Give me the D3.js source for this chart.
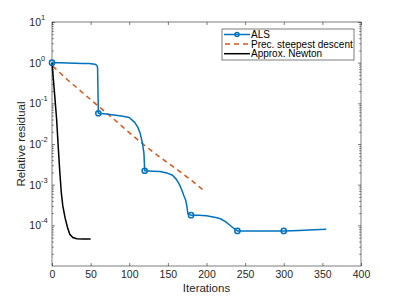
<!DOCTYPE html>
<html>
<head>
<meta charset="utf-8">
<script src="https://cdn.jsdelivr.net/npm/d3@7"></script>
<style>
  body { margin: 0; background: #fff; }
  text { font-family: "Liberation Sans", Arial, sans-serif; }
</style>
</head>
<body>
<svg id="chart" width="399" height="299"></svg>
<script>
// data
var alsIter = [0, 10, 20, 30, 40, 48, 53, 56, 58, 59, 60, 70, 80, 90, 100, 107, 111, 114, 117, 119, 120, 130, 140, 150, 156, 161, 165, 168, 171, 173, 174.5, 176, 180, 190, 200, 205, 212, 218, 224, 230, 235, 240, 260, 280, 300, 320, 340, 355];
var alsVal  = [1.0, 0.99, 0.98, 0.97, 0.96, 0.95, 0.93, 0.91, 0.86, 0.76, 0.057, 0.055, 0.052, 0.049, 0.045, 0.034, 0.026, 0.0187, 0.0106, 0.006, 0.0022, 0.00215, 0.0021, 0.0019, 0.0017, 0.00135, 0.001, 0.00074, 0.00052, 0.00042, 0.0003, 0.00019, 0.000178, 0.000176, 0.000172, 0.000165, 0.000155, 0.000145, 0.000125, 0.000102, 0.000085, 0.000073, 0.000073, 0.000073, 0.000073, 0.000075, 0.000078, 0.00008];
var alsMarkIter = [0, 60, 120, 180, 240, 300];
var alsMarkVal  = [1.0, 0.057, 0.0022, 0.000178, 0.000073, 0.000073];

var sdIter = [1, 20, 40, 60, 80, 100, 120, 140, 160, 180, 198];
var sdVal  = [0.82, 0.38, 0.18, 0.085, 0.041, 0.019, 0.0092, 0.0047, 0.0025, 0.0013, 0.00068];

var nwIter = [0, 2, 4, 6, 8, 10, 12, 14, 17, 20, 23, 27, 32, 40, 50];
var nwVal  = [1.0, 0.35, 0.12, 0.04, 0.009, 0.0022, 0.00065, 0.0003, 0.00015, 0.00009, 0.00006, 0.00005, 0.000047, 0.000046, 0.000046];

var xTicks = [0, 50, 100, 150, 200, 250, 300, 350, 400];
var yExps = [-4, -3, -2, -1, 0, 1];
var legendNames = ['ALS', 'Prec. steepest descent', 'Approx. Newton'];
var colors = ['#0072BD', '#D95319', '#000000'];

var svg = d3.select('#chart');
var L = 52, R = 361, T = 22, B = 266;
var axisCol = '#262626';

var x = d3.scaleLinear().domain([0, 400]).range([L, R]);
var y = d3.scaleLog().domain([1e-5, 10]).range([B, T]);

// minor tick values
var minor = [];
for (var e = -5; e < 1; e++) {
    for (var k = 2; k < 10; k++) minor.push(k * Math.pow(10, e));
}
var major = yExps.map(function(d) { return Math.pow(10, d); });

function styleAxis(g) {
    g.select('.domain').remove();
    g.selectAll('line').attr('stroke', axisCol).attr('stroke-width', 0.6);
    g.selectAll('text').attr('fill', axisCol).style('font-size', '10.5px');
}

// bottom / top
svg.append('g')
    .attr('transform', 'translate(0,' + B + ')')
    .call(d3.axisBottom(x).tickValues(xTicks).tickSize(-3).tickPadding(4.5))
    .call(styleAxis);
svg.append('g')
    .attr('transform', 'translate(0,' + T + ')')
    .call(d3.axisTop(x).tickValues(xTicks).tickSize(-3).tickFormat(''))
    .call(styleAxis);

// left / right majors
svg.append('g')
    .attr('transform', 'translate(' + L + ',0)')
    .call(d3.axisLeft(y).tickValues(major).tickSize(-3).tickFormat(''))
    .call(styleAxis);
svg.append('g')
    .attr('transform', 'translate(' + R + ',0)')
    .call(d3.axisRight(y).tickValues(major).tickSize(-3).tickFormat(''))
    .call(styleAxis);
// minors
svg.append('g')
    .attr('transform', 'translate(' + L + ',0)')
    .call(d3.axisLeft(y).tickValues(minor).tickSize(-1.8).tickFormat(''))
    .call(styleAxis);
svg.append('g')
    .attr('transform', 'translate(' + R + ',0)')
    .call(d3.axisRight(y).tickValues(minor).tickSize(-1.8).tickFormat(''))
    .call(styleAxis);

// y labels as 10^n
yExps.forEach(function(ex) {
    svg.append('text')
        .attr('x', 41)
        .attr('y', y(Math.pow(10, ex)) + 4)
        .attr('text-anchor', 'end')
        .attr('fill', axisCol)
        .style('font-size', '10.5px')
        .text('10');
    var s = ex < 0 ? '-' + (-ex) : '' + ex;
    svg.append('text')
        .attr('x', 41)
        .attr('y', y(Math.pow(10, ex)) - 2)
        .attr('fill', axisCol)
        .style('font-size', '7.5px')
        .text(s);
});

// box
svg.append('rect')
    .attr('x', L).attr('y', T)
    .attr('width', R - L).attr('height', B - T)
    .attr('fill', 'none')
    .attr('stroke', axisCol)
    .attr('stroke-width', 0.6);

// axis titles
svg.append('text')
    .attr('x', (L + R) / 2)
    .attr('y', 292)
    .attr('text-anchor', 'middle')
    .attr('fill', axisCol)
    .style('font-size', '11.5px')
    .text('Iterations');
svg.append('text')
    .attr('transform', 'translate(25,' + ((T + B) / 2) + ') rotate(-90)')
    .attr('text-anchor', 'middle')
    .attr('fill', axisCol)
    .style('font-size', '11.5px')
    .text('Relative residual');

var lineGen = d3.line()
    .x(function(d) { return x(d[0]); })
    .y(function(d) { return y(d[1]); });

var sdData = d3.zip(sdIter, sdVal);
var nwData = d3.zip(nwIter, nwVal);
var alsData = d3.zip(alsIter, alsVal);

svg.append('path')
    .attr('d', lineGen(sdData))
    .attr('fill', 'none')
    .attr('stroke', colors[1])
    .attr('stroke-width', 1.5)
    .attr('stroke-dasharray', '5 4');

svg.append('path')
    .attr('d', lineGen(nwData))
    .attr('fill', 'none')
    .attr('stroke', colors[2])
    .attr('stroke-width', 1.5);

svg.append('path')
    .attr('d', lineGen(alsData))
    .attr('fill', 'none')
    .attr('stroke', colors[0])
    .attr('stroke-width', 1.5)
    .attr('stroke-linejoin', 'round');

svg.selectAll('circle.als')
    .data(d3.zip(alsMarkIter, alsMarkVal))
    .enter().append('circle')
    .attr('class', 'als')
    .attr('cx', function(d) { return x(d[0]); })
    .attr('cy', function(d) { return y(d[1]); })
    .attr('r', 2.6)
    .attr('fill', 'none')
    .attr('stroke', colors[0])
    .attr('stroke-width', 1.5);

// legend
var lg = svg.append('g');
lg.append('rect')
    .attr('x', 222).attr('y', 29)
    .attr('width', 132).attr('height', 31)
    .attr('fill', '#fff')
    .attr('stroke', axisCol)
    .attr('stroke-width', 0.6);
legendNames.forEach(function(name, i) {
    var ly = 34.5 + i * 9.6;
    var ln = lg.append('line')
        .attr('x1', 224).attr('x2', 250)
        .attr('y1', ly).attr('y2', ly)
        .attr('stroke', colors[i])
        .attr('stroke-width', 1.5);
    if (i == 1) ln.attr('stroke-dasharray', '5 4').attr('x1', 225);
    if (i == 0) {
        lg.append('circle')
            .attr('cx', 237).attr('cy', ly).attr('r', 2)
            .attr('fill', 'none')
            .attr('stroke', colors[0])
            .attr('stroke-width', 1.5);
    }
    lg.append('text')
        .attr('x', 251)
        .attr('y', ly + 3.5)
        .attr('fill', '#000')
        .style('font-size', '10px')
        .text(name);
});
</script>
</body>
</html>
